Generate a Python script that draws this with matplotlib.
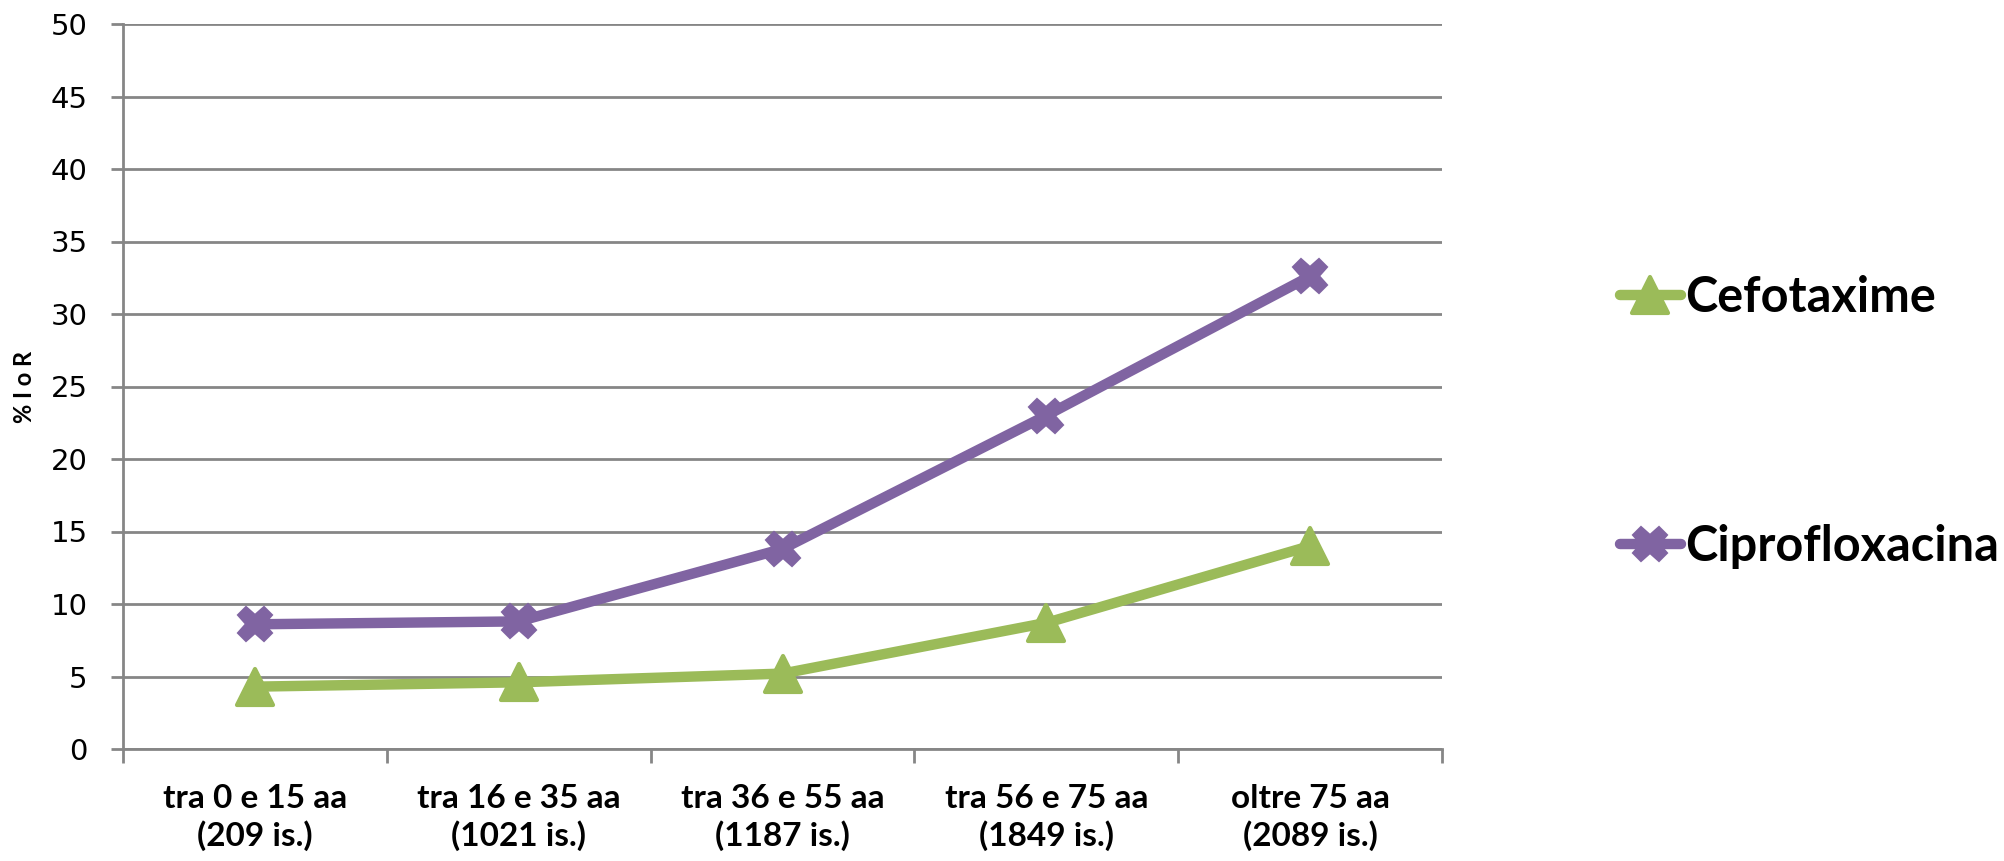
import matplotlib
matplotlib.use("Agg")
import matplotlib.pyplot as plt
from matplotlib.markers import MarkerStyle

categories = ["tra 0 e 15 aa\n(209 is.)", "tra 16 e 35 aa\n(1021 is.)", "tra 36 e 55 aa\n(1187 is.)",
              "tra 56 e 75 aa\n(1849 is.)", "oltre 75 aa\n(2089 is.)"]
cefotaxime = [4.3, 4.6, 5.2, 8.7, 14.0]
ciprofloxacina = [8.6, 8.8, 13.8, 23.0, 32.6]
yticks = [0, 5, 10, 15, 20, 25, 30, 35, 40, 45, 50]

GREEN = "#9BBB59"
PURPLE = "#8064A2"
GRID = "#868686"

fig = plt.figure(figsize=(20.04, 8.61), dpi=100)
ax = fig.add_axes([123/2004, 1-749/861, (1442-123)/2004, (749-24)/861])

x = list(range(len(categories)))
ax.plot(x, cefotaxime, color=GREEN, lw=7.5, marker=MarkerStyle("^", joinstyle="round"),
        markersize=26, markeredgewidth=3, label="Cefotaxime",
        solid_joinstyle="round", solid_capstyle="round", zorder=3)
ax.plot(x, ciprofloxacina, color=PURPLE, lw=7.5, marker=MarkerStyle("X", joinstyle="miter"),
        markersize=25, markeredgewidth=1.5, label="Ciprofloxacina",
        solid_joinstyle="round", solid_capstyle="round", zorder=3)

ax.set_xlim(-0.5, len(categories) - 0.5)
ax.set_ylim(0, 50)
ax.set_yticks(yticks)
ax.set_yticklabels([str(v) for v in yticks], fontfamily="DejaVu Sans", fontsize=21)
ax.set_xticks(x)
ax.set_xticklabels(categories, fontfamily="Lato", fontweight="bold", fontsize=24, linespacing=1.29)
ax.tick_params(axis="x", length=0, pad=25)
ax.tick_params(axis="y", length=8.6, width=2, color=GRID, pad=17)
# category boundary ticks
ax.set_xticks([i - 0.5 for i in range(len(categories) + 1)], minor=True)
ax.tick_params(axis="x", which="minor", length=10, width=2, color=GRID)

ax.grid(axis="y", color=GRID, lw=2)
ax.set_axisbelow(True)
for s in ["top", "right"]:
    ax.spines[s].set_visible(False)
for s in ["left", "bottom"]:
    ax.spines[s].set_color(GRID)
    ax.spines[s].set_linewidth(2)

ax.set_ylabel("% I o R", fontfamily="Lato", fontweight="bold", fontsize=17)
ax.yaxis.set_label_coords((36 - 123) / 1319, 0.5)

leg = fig.legend(handles=ax.get_lines(), loc="center left", bbox_to_anchor=(1576/2004, 1-422/861),
                 frameon=False, prop={"family": "Lato", "weight": "bold", "size": 35},
                 handlelength=1.25, handletextpad=0.1, labelspacing=4.2, markerscale=1.0)

fig.savefig("out.png", dpi=100)
